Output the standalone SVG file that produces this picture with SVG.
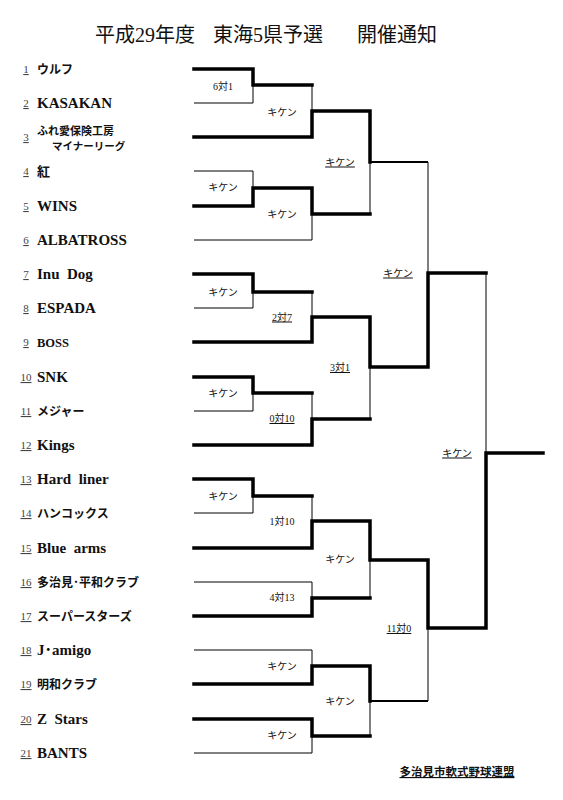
<svg xmlns="http://www.w3.org/2000/svg" width="563" height="800" viewBox="0 0 563 800">
<style>
.bg{fill:#fff}
.title{font-family:"Liberation Serif","Noto Sans CJK JP",serif;font-size:20px;fill:#111}
.nm{font-family:"Liberation Serif","Noto Sans CJK JP",serif;font-size:15px;font-weight:bold;fill:#111}
.jp{font-family:"Noto Sans CJK JP","Liberation Serif",sans-serif;font-size:12px;font-weight:bold;fill:#111}
.no{font-family:"Liberation Serif",serif;font-size:11px;fill:#444;text-decoration:underline;text-anchor:middle}
.lb{font-family:"Liberation Serif","Noto Sans CJK JP",serif;font-size:10px;fill:#111;text-anchor:middle}
.u{text-decoration:underline}
.ft{font-family:"Noto Sans CJK JP",sans-serif;font-size:11.5px;font-weight:bold;fill:#111;text-anchor:middle;text-decoration:underline}
.tk{stroke:#000;stroke-width:3.5;fill:none;stroke-linecap:square}
.md{stroke:#000;stroke-width:2;fill:none}
.tn{stroke:#000;stroke-width:1;fill:none}
</style>
<rect class="bg" x="0" y="0" width="563" height="800"/>
<g id="title">
<text class="title" x="95" y="42">平成29年度</text>
<text class="title" x="213" y="42">東海5県予選</text>
<text class="title" x="357" y="42">開催通知</text>
</g>
<g id="teams">
<g id="team1"><text class="no" x="26" y="73">1</text><text class="jp" x="37" y="73.5">ウルフ</text></g>
<g id="team2"><text class="no" x="26" y="107">2</text><text class="nm" x="37" y="108">KASAKAN</text></g>
<g id="team3"><text class="no" x="26" y="141">3</text><text class="jp" x="37" y="134.5" style="font-size:11px">ふれ愛保険工房</text><text class="jp" x="52" y="149.5" style="font-size:10.5px">マイナーリーグ</text></g>
<g id="team4"><text class="no" x="26" y="175">4</text><text class="jp" x="37" y="176" style="font-size:13px">紅</text></g>
<g id="team5"><text class="no" x="26" y="210">5</text><text class="nm" x="37" y="211">WINS</text></g>
<g id="team6"><text class="no" x="26" y="244">6</text><text class="nm" x="37" y="245">ALBATROSS</text></g>
<g id="team7"><text class="no" x="26" y="278">7</text><text class="nm" x="37" y="279" xml:space="preserve">Inu  Dog</text></g>
<g id="team8"><text class="no" x="26" y="312">8</text><text class="nm" x="37" y="313">ESPADA</text></g>
<g id="team9"><text class="no" x="26" y="346">9</text><text class="nm" x="37" y="346.5" style="font-size:12.5px">BOSS</text></g>
<g id="team10"><text class="no" x="26" y="381">10</text><text class="nm" x="37" y="382">SNK</text></g>
<g id="team11"><text class="no" x="26" y="415">11</text><text class="jp" x="37" y="415.5">メジャー</text></g>
<g id="team12"><text class="no" x="26" y="449">12</text><text class="nm" x="37" y="450">Kings</text></g>
<g id="team13"><text class="no" x="26" y="483">13</text><text class="nm" x="37" y="484" xml:space="preserve">Hard  liner</text></g>
<g id="team14"><text class="no" x="26" y="517">14</text><text class="jp" x="37" y="517.5">ハンコックス</text></g>
<g id="team15"><text class="no" x="26" y="552">15</text><text class="nm" x="37" y="553" xml:space="preserve">Blue  arms</text></g>
<g id="team16"><text class="no" x="26" y="586">16</text><text class="jp" x="37" y="586.5">多治見･平和クラブ</text></g>
<g id="team17"><text class="no" x="26" y="620">17</text><text class="jp" x="37" y="620.5">スーパースターズ</text></g>
<g id="team18"><text class="no" x="26" y="654">18</text><text class="nm" x="37" y="655">J･amigo</text></g>
<g id="team19"><text class="no" x="26" y="688">19</text><text class="jp" x="37" y="688.5">明和クラブ</text></g>
<g id="team20"><text class="no" x="26" y="723">20</text><text class="nm" x="37" y="724" xml:space="preserve">Z  Stars</text></g>
<g id="team21"><text class="no" x="26" y="757">21</text><text class="nm" x="37" y="758">BANTS</text></g>
</g>
<g id="connectors">
<path class="tn" d="M194 103H253V85 M194 171H253V188 M312 85V111 M194 240H312V214 M370 162V214 M194 308H253V292 M312 292V317 M194 411H253V393 M312 393V419 M370 367V419 M428 162V273 M194 513H253V496 M312 496V521 M194 582H312V598 M370 560V598 M194 650H312V666 M194 753H312V736 M370 701V736 M428 628V701 M486 273V453"/>
<path class="md" d="M370 162H428 M370 701H428"/>
<path class="tk" d="M194 69H253V85H312 M194 137H312V111H370V162 M194 206H253V188H312V214H370"/>
<path class="tk" d="M194 274H253V292H312 M194 342H312V317H370V367H428V273H486 M194 377H253V393H312 M194 445H312V419H370"/>
<path class="tk" d="M194 479H253V496H312 M194 548H312V521H370V560H428V628H486V453H543 M194 616H312V598H370"/>
<path class="tk" d="M194 684H312V666H370V701 M194 719H312V736H370"/>
</g>
<g id="labels">
<text class="lb" x="223" y="89.5">6対1</text>
<text class="lb" x="282" y="115.5">キケン</text>
<text class="lb" x="223" y="191">キケン</text>
<text class="lb" x="282" y="217.5">キケン</text>
<text class="lb u" x="340" y="165.5">キケン</text>
<text class="lb" x="223" y="295.5">キケン</text>
<text class="lb u" x="282" y="320.5">2対7</text>
<text class="lb" x="223" y="396.5">キケン</text>
<text class="lb u" x="282" y="422">0対10</text>
<text class="lb u" x="340" y="371">3対1</text>
<text class="lb u" x="398" y="276.5">キケン</text>
<text class="lb" x="223" y="499.5">キケン</text>
<text class="lb" x="282" y="524.5">1対10</text>
<text class="lb" x="282" y="601">4対13</text>
<text class="lb" x="340" y="563">キケン</text>
<text class="lb" x="282" y="669.5">キケン</text>
<text class="lb" x="282" y="739">キケン</text>
<text class="lb" x="340" y="704.5">キケン</text>
<text class="lb u" x="399" y="632">11対0</text>
<text class="lb u" x="457" y="456.5">キケン</text>
</g>
<g id="footer">
<text class="ft" x="457" y="776">多治見市軟式野球連盟</text>
</g>
</svg>
